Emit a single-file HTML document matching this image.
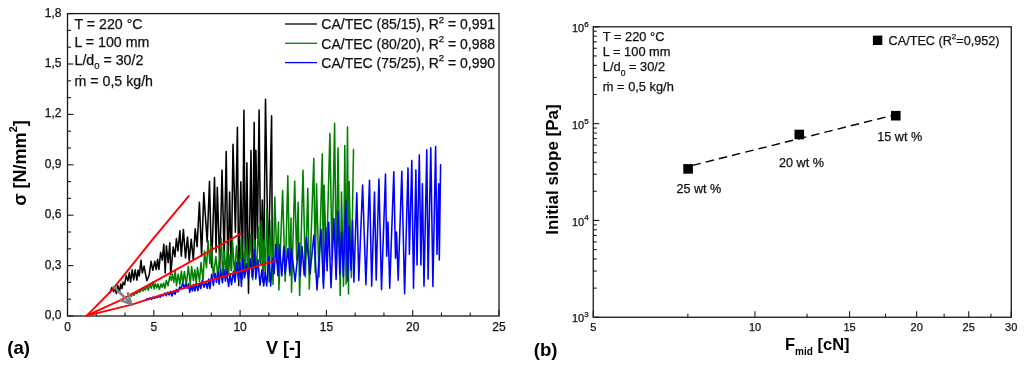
<!DOCTYPE html>
<html><head><meta charset="utf-8"><title>Figure</title>
<style>
html,body{margin:0;padding:0;background:#fff;}
body{width:1024px;height:368px;overflow:hidden;}
svg{display:block;will-change:transform;}
text{font-family:"Liberation Sans",Arial,sans-serif;fill:#111;stroke:#111;stroke-width:0.25px;}
.b{font-weight:bold;fill:#000;stroke:none;}
</style></head>
<body>
<svg width="1024" height="368" viewBox="0 0 1024 368">
<rect width="1024" height="368" fill="#ffffff"/>

<!-- ================= LEFT PLOT (a) ================= -->
<rect x="67.5" y="13.6" width="431.5" height="302.4" fill="none" stroke="#1a1a1a" stroke-width="1.3"/>
<g stroke="#1a1a1a" stroke-width="1.1">
<line x1="67.50" y1="316.0" x2="67.50" y2="310.0"/>
<line x1="96.27" y1="316.0" x2="96.27" y2="312.5"/>
<line x1="125.03" y1="316.0" x2="125.03" y2="312.5"/>
<line x1="153.80" y1="316.0" x2="153.80" y2="310.0"/>
<line x1="182.57" y1="316.0" x2="182.57" y2="312.5"/>
<line x1="211.33" y1="316.0" x2="211.33" y2="312.5"/>
<line x1="240.10" y1="316.0" x2="240.10" y2="310.0"/>
<line x1="268.87" y1="316.0" x2="268.87" y2="312.5"/>
<line x1="297.63" y1="316.0" x2="297.63" y2="312.5"/>
<line x1="326.40" y1="316.0" x2="326.40" y2="310.0"/>
<line x1="355.17" y1="316.0" x2="355.17" y2="312.5"/>
<line x1="383.93" y1="316.0" x2="383.93" y2="312.5"/>
<line x1="412.70" y1="316.0" x2="412.70" y2="310.0"/>
<line x1="441.47" y1="316.0" x2="441.47" y2="312.5"/>
<line x1="470.23" y1="316.0" x2="470.23" y2="312.5"/>
<line x1="499.00" y1="316.0" x2="499.00" y2="310.0"/>
<line x1="67.5" y1="316.00" x2="73.5" y2="316.00"/>
<line x1="67.5" y1="299.20" x2="71.0" y2="299.20"/>
<line x1="67.5" y1="282.40" x2="71.0" y2="282.40"/>
<line x1="67.5" y1="265.60" x2="73.5" y2="265.60"/>
<line x1="67.5" y1="248.80" x2="71.0" y2="248.80"/>
<line x1="67.5" y1="232.00" x2="71.0" y2="232.00"/>
<line x1="67.5" y1="215.20" x2="73.5" y2="215.20"/>
<line x1="67.5" y1="198.40" x2="71.0" y2="198.40"/>
<line x1="67.5" y1="181.60" x2="71.0" y2="181.60"/>
<line x1="67.5" y1="164.80" x2="73.5" y2="164.80"/>
<line x1="67.5" y1="148.00" x2="71.0" y2="148.00"/>
<line x1="67.5" y1="131.20" x2="71.0" y2="131.20"/>
<line x1="67.5" y1="114.40" x2="73.5" y2="114.40"/>
<line x1="67.5" y1="97.60" x2="71.0" y2="97.60"/>
<line x1="67.5" y1="80.80" x2="71.0" y2="80.80"/>
<line x1="67.5" y1="64.00" x2="73.5" y2="64.00"/>
<line x1="67.5" y1="47.20" x2="71.0" y2="47.20"/>
<line x1="67.5" y1="30.40" x2="71.0" y2="30.40"/>
<line x1="67.5" y1="13.60" x2="73.5" y2="13.60"/>
</g>
<g fill="none" stroke-linejoin="round" stroke-linecap="round" stroke-width="1.55">
<path stroke="#000000" d="M110.0,292.6 L111.8,287.5 L113.7,291.8 L114.9,286.9 L116.4,293.6 L117.7,285.4 L119.5,291.8 L120.7,284.1 L121.9,288.5 L123.2,282.3 L124.6,284.8 L126.2,275.6 L127.9,280.8 L129.3,272.8 L130.6,281.9 L132.2,269.8 L133.7,279.9 L135.2,269.8 L136.9,280.1 L138.1,270.0 L139.3,276.0 L141.0,260.2 L142.3,273.0 L144.1,266.1 L145.5,274.1 L146.9,280.6 L149.2,275.0 L151.1,261.3 L152.8,270.3 L154.8,261.3 L156.2,269.5 L157.6,259.3 L158.9,269.5 L160.6,252.4 L162.3,260.1 L163.8,244.3 L165.2,273.0 L166.4,245.8 L168.2,262.6 L169.8,242.8 L170.7,274.5 L173.2,247.0 L174.9,256.8 L176.4,238.6 L178.0,251.0 L179.9,230.7 L181.3,256.1 L183.4,229.5 L185.5,258.0 L187.5,237.1 L189.2,260.7 L191.2,239.2 L193.3,259.8 L195.2,228.7 L197.1,246.7 L199.4,202.3 L201.6,256.0 L203.8,192.6 L207.2,242.2 L209.5,181.4 L211.6,267.4 L214.5,177.6 L216.1,252.3 L217.3,187.4 L219.8,267.8 L222.0,170.1 L224.2,258.1 L226.2,151.5 L228.0,275.0 L229.6,192.0 L231.3,270.5 L233.0,144.2 L235.4,232.3 L237.4,127.2 L238.7,285.6 L240.8,181.7 L242.6,266.2 L243.9,110.2 L245.4,274.2 L246.9,162.7 L248.5,293.3 L251.0,150.4 L252.3,276.9 L254.2,122.4 L255.0,268.1 L255.9,150.2 L257.4,238.4 L259.1,110.0 L260.7,263.4 L262.3,200.0 L263.7,273.6 L265.5,99.3 L268.3,270.1 L271.6,115.7 L272.3,262.0"/>
<path stroke="#008000" d="M131.3,296.5 L132.7,293.5 L134.1,295.3 L135.5,292.5 L137.0,293.6 L138.2,291.1 L139.7,292.2 L141.3,289.4 L142.8,291.1 L144.0,288.3 L145.3,290.0 L147.0,285.9 L148.3,290.3 L149.7,284.2 L151.3,288.2 L153.0,281.7 L154.2,288.9 L155.3,283.6 L156.8,288.0 L157.9,283.9 L159.5,289.2 L161.0,283.9 L162.3,287.5 L163.6,283.0 L164.9,288.4 L166.3,280.5 L168.0,285.8 L169.8,276.0 L171.2,280.4 L172.4,274.4 L173.8,282.4 L175.2,270.9 L176.5,285.7 L178.2,274.2 L179.9,284.6 L181.4,271.1 L182.9,283.9 L184.4,271.5 L186.3,285.0 L188.3,266.3 L190.3,284.5 L191.6,266.5 L193.4,280.6 L194.8,269.7 L196.2,283.7 L197.5,267.5 L199.5,281.5 L201.0,262.5 L203.1,280.3 L204.5,251.0 L206.5,267.7 L208.1,240.8 L209.9,263.5 L211.5,246.3 L213.4,276.5 L215.9,256.6 L217.8,276.7 L221.3,238.5 L222.7,276.6 L224.5,252.0 L225.9,276.3 L227.5,244.0 L228.5,274.5 L230.0,255.0 L231.5,269.9 L232.5,240.0 L234.7,276.1 L236.5,246.0 L239.0,276.4 L241.4,238.5 L242.5,278.9 L244.0,252.0 L245.1,268.7 L246.5,241.0 L248.8,267.8 L250.5,234.4 L252.7,279.8 L254.5,240.0 L256.3,272.5 L258.4,227.0 L260.0,262.7 L261.4,220.8 L262.9,282.2 L264.0,240.0 L265.5,272.4 L266.8,209.3 L269.1,282.0 L271.3,220.0 L273.0,284.5 L274.8,197.1 L277.0,263.1 L278.5,222.0 L278.9,290.0 L282.6,190.6 L285.2,281.2 L287.8,175.7 L289.7,275.5 L291.0,218.0 L291.5,292.2 L294.7,181.1 L296.7,259.9 L298.1,202.3 L299.6,295.4 L303.0,170.2 L305.4,276.9 L307.8,188.3 L309.3,288.9 L313.8,158.4 L315.2,272.5 L316.5,183.8 L319.0,276.9 L322.3,153.9 L323.3,283.0 L324.1,185.2 L326.5,261.7 L329.9,133.4 L332.0,259.4 L334.6,123.2 L336.3,275.6 L338.0,147.8 L340.2,295.4 L341.5,192.0 L343.5,286.2 L344.8,145.6 L346.1,284.1 L347.5,127.0 L348.5,293.9 L349.1,181.5 L351.4,277.6 L353.5,149.4"/>
<path stroke="#0000ff" d="M146.0,300.1 L147.2,298.6 L148.8,299.6 L150.0,297.8 L151.6,299.5 L152.9,297.1 L154.5,298.3 L156.1,296.9 L157.4,297.7 L159.0,295.9 L160.3,297.2 L161.5,295.1 L163.3,296.0 L164.9,293.0 L166.3,295.7 L167.7,292.2 L169.3,295.0 L170.7,291.4 L172.0,296.1 L173.5,291.3 L175.2,294.3 L176.4,289.4 L177.9,292.0 L179.7,286.9 L180.9,288.8 L182.6,283.6 L184.2,287.8 L185.7,283.9 L187.1,288.3 L188.5,283.7 L189.7,292.2 L191.3,285.5 L192.4,290.9 L193.6,284.4 L194.9,291.1 L196.5,283.8 L197.9,290.5 L199.3,283.3 L200.8,288.6 L202.2,280.6 L204.0,287.3 L205.7,281.9 L207.3,288.3 L208.7,279.1 L209.9,288.6 L211.7,274.2 L213.4,285.4 L215.0,273.2 L216.5,282.3 L217.8,271.9 L219.2,284.3 L220.5,268.8 L222.4,282.8 L224.0,269.4 L225.4,281.2 L226.7,271.1 L228.6,286.5 L230.1,273.6 L231.5,284.8 L233.4,271.6 L235.0,282.1 L236.9,262.0 L238.3,279.1 L239.9,262.8 L241.4,286.5 L242.7,257.9 L244.5,277.6 L246.5,263.8 L248.4,278.3 L250.4,258.8 L252.5,277.1 L254.5,249.4 L255.8,278.9 L257.9,259.6 L260.0,285.2 L261.9,269.9 L263.7,286.0 L265.2,272.7 L266.7,286.0 L268.8,256.2 L270.7,286.0 L272.5,258.6 L274.1,273.7 L275.8,244.3 L278.0,275.6 L279.5,245.0 L281.8,276.0 L283.8,246.8 L285.2,273.6 L288.0,248.5 L289.8,272.5 L291.3,248.2 L295.1,281.5 L299.0,243.3 L300.2,275.9 L302.0,246.4 L304.2,275.1 L306.4,237.2 L310.0,273.9 L313.9,235.2 L317.0,290.0 L321.0,229.2 L323.5,288.3 L325.7,228.0 L327.1,270.8 L328.7,222.3 L331.0,287.8 L333.9,218.6 L336.1,279.5 L338.0,211.0 L339.8,273.9 L341.6,232.0 L343.4,276.5 L345.8,200.5 L347.6,280.9 L349.0,226.0 L351.0,269.9 L352.5,220.6 L353.9,282.1 L356.8,192.9 L358.8,280.5 L362.6,185.0 L365.9,284.6 L369.5,180.3 L371.7,286.2 L374.5,192.0 L376.2,280.1 L378.9,179.0 L381.5,289.6 L385.5,174.0 L386.7,256.3 L388.0,222.0 L389.7,288.2 L393.8,171.7 L395.5,258.3 L396.5,232.0 L398.2,280.1 L401.8,171.2 L404.6,293.7 L408.0,167.9 L409.4,254.3 L411.8,160.4 L413.5,288.2 L415.9,169.9 L417.0,265.1 L419.3,154.9 L420.9,265.1 L422.4,183.8 L424.0,286.2 L426.8,149.8 L428.1,279.1 L430.8,147.7 L432.9,286.5 L435.6,146.5 L437.0,254.3 L438.7,183.8 L439.3,260.1 L440.6,164.7"/>
</g>
<g stroke="#ff0000" stroke-width="1.9" stroke-linecap="round" stroke-linejoin="round" fill="none">
<path d="M86.8,315.6 L112.2,289.8 L152,240.2 L188.7,196.1"/>
<path d="M86.8,315.6 L121.2,299.8 L160,278.6 L240.6,233.8"/>
<path d="M86.8,315.6 L131.8,304.6 L160,295.3 L275.2,260.6"/>
</g>
<!-- grey arrow -->
<g stroke="#808080" fill="none" stroke-width="2.6" stroke-linecap="butt" stroke-linejoin="miter">
<line x1="113" y1="286" x2="130.6" y2="303.3"/>
<path d="M127.6,292.4 L131.3,304.2 L120,300"/>
</g>
<g font-size="12">
<text x="67.5" y="331.3" text-anchor="middle">0</text>
<text x="153.8" y="331.3" text-anchor="middle">5</text>
<text x="240.1" y="331.3" text-anchor="middle">10</text>
<text x="326.4" y="331.3" text-anchor="middle">15</text>
<text x="412.7" y="331.3" text-anchor="middle">20</text>
<text x="499.0" y="331.3" text-anchor="middle">25</text>
<text x="61.5" y="318.9" text-anchor="end">0,0</text>
<text x="61.5" y="268.5" text-anchor="end">0,3</text>
<text x="61.5" y="218.1" text-anchor="end">0,6</text>
<text x="61.5" y="167.7" text-anchor="end">0,9</text>
<text x="61.5" y="117.3" text-anchor="end">1,2</text>
<text x="61.5" y="66.9" text-anchor="end">1,5</text>
<text x="61.5" y="16.5" text-anchor="end">1,8</text>
</g>
<g font-size="14.2">
<text x="74.5" y="29.3">T = 220 °C</text>
<text x="74.5" y="47">L = 100 mm</text>
<text x="74.5" y="64.5">L/d<tspan dy="4" font-size="9.5">0</tspan><tspan dy="-4"> = 30/2</tspan></text>
<text x="74.5" y="85.5">ṁ = 0,5 kg/h</text>
</g>
<g stroke-width="1.3">
<line x1="285" y1="24" x2="317" y2="24" stroke="#000"/>
<line x1="285" y1="43.3" x2="317" y2="43.3" stroke="#008000"/>
<line x1="285" y1="62.6" x2="317" y2="62.6" stroke="#0000ff"/>
</g>
<g font-size="14">
<text x="321.3" y="29.3">CA/TEC (85/15), R<tspan dy="-6.5" font-size="9.5">2</tspan><tspan dy="6.5"> = 0,991</tspan></text>
<text x="321.3" y="48.6">CA/TEC (80/20), R<tspan dy="-6.5" font-size="9.5">2</tspan><tspan dy="6.5"> = 0,988</tspan></text>
<text x="321.3" y="67.9">CA/TEC (75/25), R<tspan dy="-6.5" font-size="9.5">2</tspan><tspan dy="6.5"> = 0,990</tspan></text>
</g>
<text class="b" font-size="18" x="266" y="353.5">V [-]</text>
<text class="b" font-size="18.6" x="7.3" y="353.8">(a)</text>
<text class="b" font-size="18" text-anchor="middle" transform="translate(26,163) rotate(-90)">σ [N/mm<tspan dy="-9" font-size="11.5">2</tspan><tspan dy="9">]</tspan></text>

<!-- ================= RIGHT PLOT (b) ================= -->
<line x1="688" y1="166.5" x2="896" y2="114.5" stroke="#000" stroke-width="1.4" stroke-dasharray="8.5 5.1" stroke-dashoffset="-4.6"/>
<g fill="#000">
<rect x="683.3" y="164.1" width="9.6" height="9.6"/>
<rect x="794.5" y="129.7" width="9.6" height="9.6"/>
<rect x="891" y="110.9" width="9.6" height="9.6"/>
<rect x="872.9" y="35.6" width="9.4" height="9.4"/>
</g>
<rect x="593.25" y="26.8" width="418.0" height="290.45" fill="none" stroke="#1a1a1a" stroke-width="1.3"/>
<g stroke="#1a1a1a" stroke-width="1.1">
<line x1="593.25" y1="317.25" x2="593.25" y2="311.25"/>
<line x1="754.95" y1="317.25" x2="754.95" y2="311.25"/>
<line x1="849.55" y1="317.25" x2="849.55" y2="311.25"/>
<line x1="916.66" y1="317.25" x2="916.66" y2="311.25"/>
<line x1="968.72" y1="317.25" x2="968.72" y2="311.25"/>
<line x1="1011.25" y1="317.25" x2="1011.25" y2="311.25"/>
<line x1="687.84" y1="317.25" x2="687.84" y2="313.75"/>
<line x1="807.01" y1="317.25" x2="807.01" y2="313.75"/>
<line x1="885.51" y1="317.25" x2="885.51" y2="313.75"/>
<line x1="944.14" y1="317.25" x2="944.14" y2="313.75"/>
<line x1="990.95" y1="317.25" x2="990.95" y2="313.75"/>
<line x1="593.25" y1="317.25" x2="599.25" y2="317.25"/>
<line x1="593.25" y1="288.11" x2="596.75" y2="288.11"/>
<line x1="593.25" y1="271.06" x2="596.75" y2="271.06"/>
<line x1="593.25" y1="258.96" x2="596.75" y2="258.96"/>
<line x1="593.25" y1="249.58" x2="596.75" y2="249.58"/>
<line x1="593.25" y1="241.91" x2="596.75" y2="241.91"/>
<line x1="593.25" y1="235.43" x2="596.75" y2="235.43"/>
<line x1="593.25" y1="229.82" x2="596.75" y2="229.82"/>
<line x1="593.25" y1="224.86" x2="596.75" y2="224.86"/>
<line x1="593.25" y1="220.43" x2="599.25" y2="220.43"/>
<line x1="593.25" y1="191.29" x2="596.75" y2="191.29"/>
<line x1="593.25" y1="174.24" x2="596.75" y2="174.24"/>
<line x1="593.25" y1="162.14" x2="596.75" y2="162.14"/>
<line x1="593.25" y1="152.76" x2="596.75" y2="152.76"/>
<line x1="593.25" y1="145.10" x2="596.75" y2="145.10"/>
<line x1="593.25" y1="138.61" x2="596.75" y2="138.61"/>
<line x1="593.25" y1="133.00" x2="596.75" y2="133.00"/>
<line x1="593.25" y1="128.05" x2="596.75" y2="128.05"/>
<line x1="593.25" y1="123.62" x2="599.25" y2="123.62"/>
<line x1="593.25" y1="94.47" x2="596.75" y2="94.47"/>
<line x1="593.25" y1="77.42" x2="596.75" y2="77.42"/>
<line x1="593.25" y1="65.33" x2="596.75" y2="65.33"/>
<line x1="593.25" y1="55.94" x2="596.75" y2="55.94"/>
<line x1="593.25" y1="48.28" x2="596.75" y2="48.28"/>
<line x1="593.25" y1="41.80" x2="596.75" y2="41.80"/>
<line x1="593.25" y1="36.18" x2="596.75" y2="36.18"/>
<line x1="593.25" y1="31.23" x2="596.75" y2="31.23"/>
<line x1="593.25" y1="26.80" x2="599.25" y2="26.80"/>
</g>
<g font-size="11">
<text x="593.2" y="331.4" text-anchor="middle">5</text>
<text x="755.0" y="331.4" text-anchor="middle">10</text>
<text x="849.5" y="331.4" text-anchor="middle">15</text>
<text x="916.7" y="331.4" text-anchor="middle">20</text>
<text x="968.7" y="331.4" text-anchor="middle">25</text>
<text x="1011.2" y="331.4" text-anchor="middle">30</text>
<text x="588.6" y="322.4" text-anchor="end">10<tspan dy="-5.2" font-size="8">3</tspan></text>
<text x="588.6" y="225.6" text-anchor="end">10<tspan dy="-5.2" font-size="8">4</tspan></text>
<text x="588.6" y="128.8" text-anchor="end">10<tspan dy="-5.2" font-size="8">5</tspan></text>
<text x="588.6" y="32.0" text-anchor="end">10<tspan dy="-5.2" font-size="8">6</tspan></text>
</g>
<g font-size="12.85">
<text x="602.8" y="40.5">T = 220 °C</text>
<text x="602.8" y="55.8">L = 100 mm</text>
<text x="602.8" y="71.2">L/d<tspan dy="4.5" font-size="8.5">0</tspan><tspan dy="-4.5"> = 30/2</tspan></text>
<text x="602.8" y="90.8">ṁ = 0,5 kg/h</text>
</g>
<g font-size="12.65">
<text x="888.6" y="44.5">CA/TEC (R<tspan dy="-5.5" font-size="8">2</tspan><tspan dy="5.5">=0,952)</tspan></text>
<text x="676.4" y="192.5">25 wt %</text>
<text x="779" y="167">20 wt %</text>
<text x="877.3" y="141.4">15 wt %</text>
</g>
<text class="b" font-size="16.5" x="785" y="349.5">F<tspan dy="5.8" font-size="10">mid</tspan><tspan dy="-5.8"> [cN]</tspan></text>
<text class="b" font-size="18.6" x="533.8" y="355.8">(b)</text>
<text class="b" font-size="17" text-anchor="middle" transform="translate(558,169.5) rotate(-90)">Initial slope [Pa]</text>
</svg>
</body></html>
